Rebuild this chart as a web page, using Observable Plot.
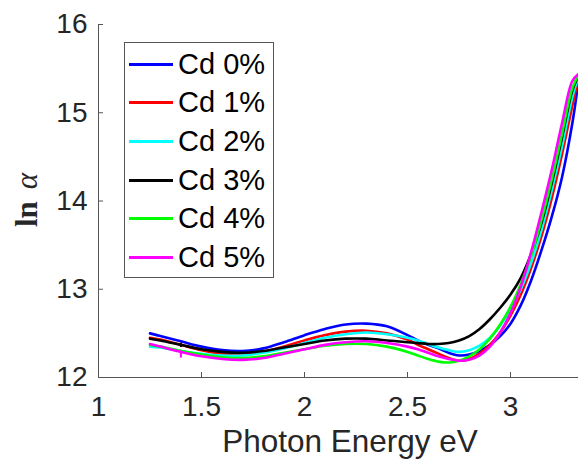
<!DOCTYPE html>
<html><head><meta charset="utf-8">
<script src="https://cdn.jsdelivr.net/npm/d3@7"></script>
<script src="https://cdn.jsdelivr.net/npm/@observablehq/plot@0.6"></script>
<style>
body{margin:0;background:#fff;}
#wrap{position:relative;width:578px;height:464px;overflow:hidden;font-family:"Liberation Sans",Arial,sans-serif;}
#legend{position:absolute;left:124px;top:42px;width:148px;height:232px;padding-top:2px;border:1px solid #555;background:#fff;}
.row{height:38.6px;display:flex;align-items:center;}
.sw{width:44px;height:3px;margin-left:4px;margin-right:5px;}
.lab{font-size:29px;color:#000;line-height:1;white-space:nowrap;}
</style></head><body><div id="wrap"></div>
<script>
const energy = [1.25,1.30,1.40,1.50,1.60,1.70,1.80,1.90,2.00,2.10,2.20,2.30,2.40,2.50,2.55,2.60,2.65,2.70,2.75,2.80,2.85,2.90,2.95,3.00,3.05,3.10,3.15,3.20,3.25,3.30,3.33];
const cd0 = [12.50,12.47,12.41,12.35,12.31,12.30,12.33,12.40,12.48,12.55,12.60,12.61,12.58,12.48,12.42,12.37,12.33,12.28,12.25,12.26,12.30,12.37,12.47,12.61,12.82,13.10,13.44,13.82,14.27,14.88,15.36];
const cd1 = [12.45,12.43,12.37,12.31,12.27,12.26,12.29,12.35,12.42,12.48,12.52,12.53,12.50,12.43,12.37,12.32,12.27,12.22,12.19,12.21,12.27,12.37,12.51,12.70,12.94,13.24,13.60,14.03,14.53,15.08,15.40];
const cd2 = [12.35,12.34,12.30,12.27,12.25,12.25,12.28,12.33,12.39,12.45,12.49,12.51,12.49,12.45,12.42,12.38,12.34,12.31,12.29,12.31,12.36,12.45,12.59,12.77,13.00,13.30,13.67,14.12,14.62,15.18,15.41];
const cd3 = [12.44,12.42,12.37,12.32,12.29,12.28,12.30,12.34,12.38,12.42,12.44,12.44,12.42,12.40,12.39,12.38,12.38,12.39,12.42,12.47,12.55,12.66,12.79,12.94,13.13,13.40,13.75,14.20,14.72,15.25,15.42];
const cd4 = [12.37,12.35,12.30,12.26,12.23,12.22,12.24,12.28,12.32,12.36,12.38,12.38,12.35,12.29,12.25,12.21,12.18,12.17,12.19,12.24,12.32,12.44,12.60,12.80,13.06,13.38,13.78,14.24,14.76,15.28,15.43];
const cd5 = [12.38,12.35,12.29,12.24,12.21,12.20,12.22,12.27,12.32,12.37,12.40,12.41,12.39,12.35,12.32,12.28,12.24,12.21,12.19,12.20,12.25,12.35,12.51,12.73,13.03,13.42,13.87,14.35,14.88,15.36,15.44];
const seriesNames = ["Cd 0%","Cd 1%","Cd 2%","Cd 3%","Cd 4%","Cd 5%"];
const seriesColors = ["#0000ff","#ff0000","#00ffff","#000000","#00ff00","#ff00ff"];
const glitchSeries = ["Cd 5%","Cd 3%"];
const glitchEnergy = [1.40,1.40];
const glitchLo = [12.22,12.34];
const glitchHi = [12.30,12.39];
const xTicks = [1,1.5,2,2.5,3];
const yTicks = [12,13,14,15,16];

const allValues = [cd0,cd1,cd2,cd3,cd4,cd5];
const rows = seriesNames.flatMap((name,k)=>energy.map((e,i)=>({series:name, energy:e, lnAlpha:allValues[k][i]})));
const glitches = glitchSeries.map((s,i)=>({series:s, energy:glitchEnergy[i], lo:glitchLo[i], hi:glitchHi[i]}));

const W = 578, H = 464, mL = 98, mR = 0, mT = 24, mB = 87;
const plotW = W - mL - mR, plotH = H - mT - mB;
const axisColor = "#555";
const fmt = d => String(d);

const chart = Plot.plot({
  width: W, height: H, marginLeft: mL, marginRight: mR, marginTop: mT, marginBottom: mB,
  style: {fontFamily: "Liberation Sans, Arial, sans-serif", background: "#fff", overflow: "hidden"},
  x: {domain: [1, 3.33]},
  y: {domain: [12, 16]},
  color: {domain: seriesNames, range: seriesColors},
  marks: [
    Plot.line(rows, {x: "energy", y: "lnAlpha", z: "series", stroke: "series", strokeWidth: 2.6, curve: "catmull-rom"}),
    Plot.ruleX(glitches, {x: "energy", y1: "lo", y2: "hi", stroke: "series", strokeWidth: 2}),
    Plot.ruleX([1], {stroke: axisColor}),
    Plot.ruleY([12], {stroke: axisColor}),
    Plot.tickX(xTicks, {x: d => d, insetTop: plotH - 5, stroke: axisColor}),
    Plot.tickY(yTicks, {y: d => d, insetRight: plotW - 5, stroke: axisColor}),
    Plot.axisX({ticks: xTicks, tickFormat: fmt, tickSize: 0, tickPadding: 19, fontSize: 28, label: null, color: "#262626"}),
    Plot.axisY({ticks: yTicks, tickFormat: fmt, tickSize: 0, tickPadding: 11, fontSize: 28, label: null, color: "#262626"})
  ]
});

const svg = d3.select(chart);
svg.append("text")
  .attr("x", 350).attr("y", 452)
  .attr("text-anchor", "middle")
  .attr("font-size", 31.5)
  .attr("fill", "#262626")
  .attr("font-family", "Liberation Sans, Arial, sans-serif")
  .text("Photon Energy eV");
const yl = svg.append("text")
  .attr("transform", "translate(37,200) rotate(-90)")
  .attr("text-anchor", "middle")
  .attr("font-size", 31)
  .attr("fill", "#262626")
  .attr("font-family", "Liberation Serif, DejaVu Serif, serif");
yl.append("tspan").attr("font-weight", "bold").text("ln");
yl.append("tspan").attr("dx", 12).attr("font-style", "italic").text("α");

const wrap = document.getElementById("wrap");
wrap.appendChild(chart);

const legend = document.createElement("div");
legend.id = "legend";
seriesNames.forEach((name, i) => {
  const row = document.createElement("div");
  row.className = "row";
  const sw = document.createElement("span");
  sw.className = "sw";
  sw.style.background = seriesColors[i];
  const lab = document.createElement("span");
  lab.className = "lab";
  lab.textContent = name;
  row.appendChild(sw); row.appendChild(lab);
  legend.appendChild(row);
});
wrap.appendChild(legend);
</script>
</body></html>
